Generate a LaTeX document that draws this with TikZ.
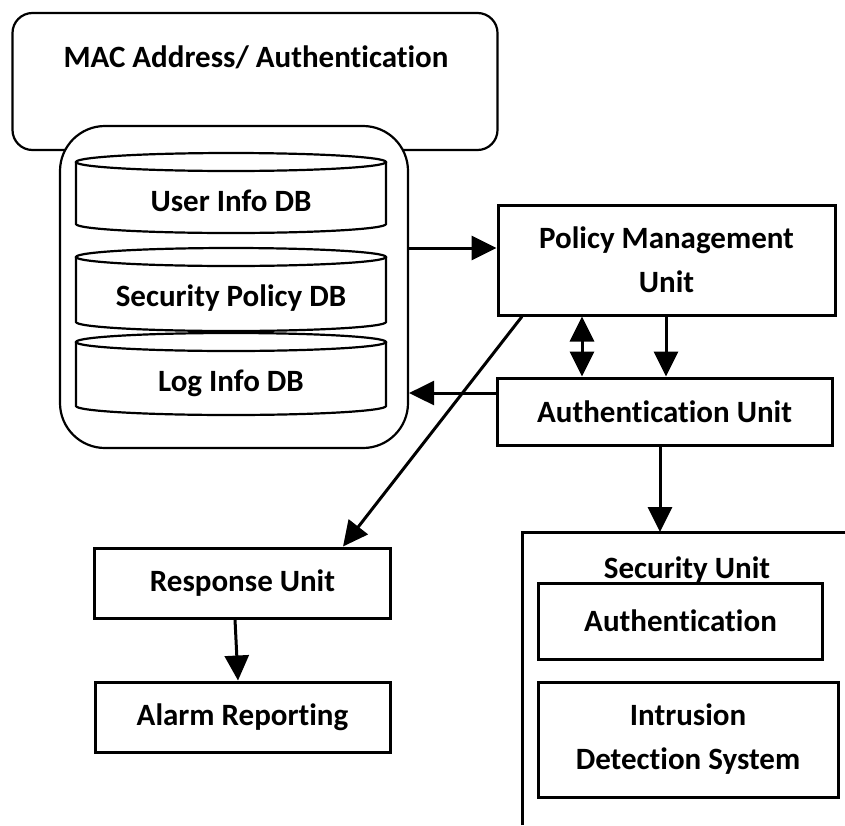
\documentclass[tikz,border=0pt]{standalone}
\usepackage{fontspec}
\setmainfont[Ligatures=NoCommon]{Carlito}
\usetikzlibrary{arrows.meta,calc}
\tikzset{
  lbl/.style={font=\bfseries\fontsize{31}{44}\selectfont, text=black, align=center, inner sep=0pt},
  box/.style={draw, line width=3pt, fill=white, inner sep=0pt, lbl},
  rbox/.style={draw, line width=2.2pt, fill=white, inner sep=0pt},
  arr/.style={line width=3pt, -{Triangle[length=25pt,width=24pt]}},
  arrboth/.style={line width=3pt, {Triangle[length=25pt,width=24pt]}-{Triangle[length=25pt,width=24pt]}},
  dbside/.style={line width=2.2pt, fill=white},
}
% draws one database cylinder: left x, right x, top ellipse centre y, bottom ellipse centre y
\newcommand{\dbcyl}[4]{%
  \pgfmathsetmacro{\cx}{(#1+#2)/2}%
  \pgfmathsetmacro{\rx}{(#2-#1)/2}%
  \draw[dbside] (#1,#3) -- (#1,#4) arc[start angle=180, end angle=0, x radius=\rx, y radius=9] -- (#2,#3);
  \draw[dbside] (\cx,#3) ellipse[x radius=\rx, y radius=9];
}
\begin{document}
\begin{tikzpicture}[x=1pt, y=-1pt]
  \useasboundingbox (0,0) rectangle (845,825);

  % MAC address box with the database container in front of it
  \node[rbox, rounded corners=20pt, minimum width=485pt, minimum height=137pt] (mac) at (255,81.5) {};
  \node[lbl] (mactext) at (256,57) {MAC Address/ Authentication};
  \node[rbox, rounded corners=45pt, minimum width=348pt, minimum height=322pt] (dbc) at (234,287) {};

  % database cylinders
  \dbcyl{76}{386}{162}{224}
  \node[lbl] (udb) at (231,201) {User Info DB};
  \dbcyl{76}{386}{257}{322}
  \node[lbl] (sdb) at (231,298) {Security Policy DB};
  \dbcyl{76}{386}{342}{406}
  \node[lbl] (ldb) at (231,383) {Log Info DB};

  % units
  \node[box, minimum width=337pt, minimum height=110pt] (pmu) at (666.5,260) {Policy Management\\Unit};
  \node[box, minimum width=335pt, minimum height=67pt] (au) at (664.5,411.5) {Authentication Unit};
  \node[box, minimum width=296pt, minimum height=70pt] (ru) at (242.5,583) {Response Unit};
  \node[box, minimum width=295pt, minimum height=70pt] (ar) at (242.5,717) {Alarm Reporting};

  % security unit (open frame running off the page)
  \coordinate (sutop) at (660,532);
  \draw[line width=3pt] (522,825) -- (522,532) -- (845,532);
  \node[lbl] (sutext) at (687,570) {Security Unit};
  \node[box, minimum width=284pt, minimum height=76pt] (sauth) at (680.5,621) {Authentication};
  \node[box, minimum width=300pt, minimum height=115pt] (ids) at (688,739.5) {Intrusion\\Detection System};

  % connectors
  \draw[arr] (dbc.east |- 0,248) -- (pmu.west |- 0,248);
  \draw[arr] (au.west |- 0,393) -- (dbc.east |- 0,393);
  \draw[arrboth] (pmu.south -| 582,0) -- (au.north -| 582,0);
  \draw[arr] (pmu.south -| 666,0) -- (au.north -| 666,0);
  \draw[arr] (pmu.south -| 522,0) -- (ru.north -| 343,0);
  \draw[arr] (ru.south -| 235,0) -- (ar.north -| 238,0);
  \draw[arr] (au.south -| 660,0) -- (sutop);
\end{tikzpicture}
\end{document}
